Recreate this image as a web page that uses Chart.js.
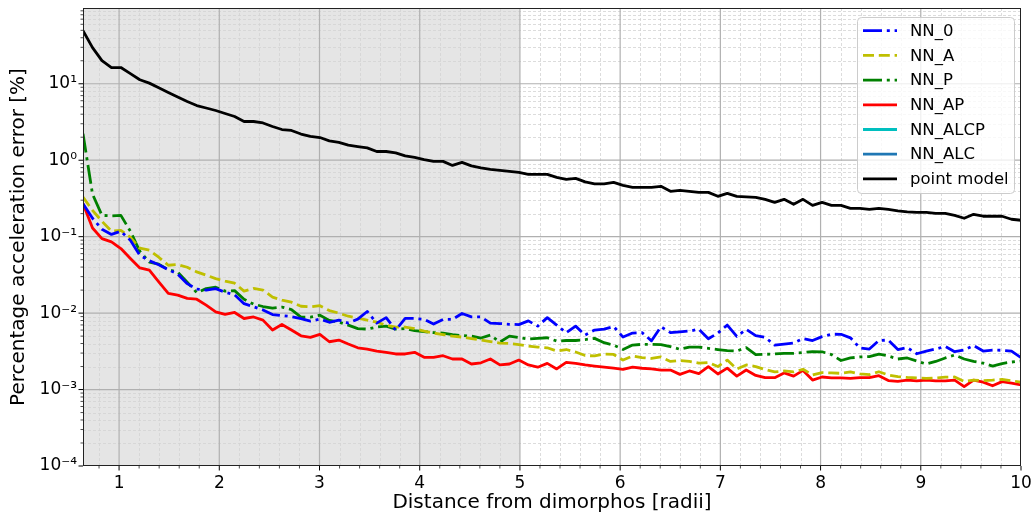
<!DOCTYPE html>
<html><head><meta charset="utf-8">
<script src="https://cdn.jsdelivr.net/npm/chart.js@4.4.0/dist/chart.umd.min.js"></script>
<style>html,body{margin:0;padding:0;background:#fff;}canvas{display:block;}</style>
</head><body>
<canvas id="c" width="1034" height="516"></canvas>
<script>
const distance = [0.640,0.735,0.829,0.924,1.018,1.113,1.207,1.302,1.396,1.491,
1.585,1.680,1.775,1.869,1.964,2.058,2.153,2.247,2.342,2.436,
2.531,2.625,2.720,2.815,2.909,3.004,3.098,3.193,3.287,3.382,
3.476,3.571,3.665,3.760,3.855,3.949,4.044,4.138,4.233,4.327,
4.422,4.516,4.611,4.705,4.800,4.895,4.989,5.084,5.178,5.273,
5.367,5.462,5.556,5.651,5.745,5.840,5.935,6.029,6.124,6.218,
6.313,6.407,6.502,6.596,6.691,6.785,6.880,6.975,7.069,7.164,
7.258,7.353,7.447,7.542,7.636,7.731,7.825,7.920,8.015,8.109,
8.204,8.298,8.393,8.487,8.582,8.676,8.771,8.865,8.960,9.055,
9.149,9.244,9.338,9.433,9.527,9.622,9.716,9.811,9.905,10.000];

const nn0 = [0.27,0.174,0.125,0.107,0.1176,0.0897,0.0571,0.0484,0.043,0.037,
0.0323,0.0243,0.0206,0.02,0.0209,0.0188,0.0174,0.0133,0.0121,0.011,
0.00956,0.00928,0.009,0.00848,0.00786,0.00835,0.00759,0.0081,0.0074,0.00835,
0.0105,0.0074,0.00873,0.006,0.00853,0.00853,0.00828,0.00719,0.00828,0.00828,
0.0099,0.00892,0.00892,0.0074,0.0073,0.00714,0.00708,0.00791,0.00676,0.00873,
0.00697,0.00553,0.00676,0.00516,0.006,0.00618,0.00667,0.00486,0.00548,0.00556,
0.00434,0.00663,0.00556,0.0057,0.00582,0.00614,0.00461,0.00548,0.00697,0.00496,
0.00612,0.00508,0.00482,0.00382,0.00394,0.00406,0.00465,0.00438,0.00493,0.00529,
0.00528,0.00475,0.00349,0.00339,0.00438,0.00444,0.00334,0.00354,0.00294,0.00319,
0.00339,0.00367,0.00313,0.0033,0.00376,0.00319,0.00329,0.00326,0.00319,0.00262];

const nnA = [0.33,0.221,0.159,0.1176,0.121,0.098,0.0706,0.0665,0.0538,0.0423,
0.0432,0.0398,0.0346,0.0313,0.0282,0.0262,0.0246,0.0194,0.021,0.02,
0.0162,0.0148,0.0139,0.0123,0.0121,0.0125,0.0108,0.01,0.0091,0.0086,
0.0081,0.0076,0.00697,0.00656,0.00656,0.00627,0.00582,0.00548,0.00524,0.005,
0.00486,0.00465,0.00444,0.00425,0.00406,0.004,0.00388,0.00371,0.0036,0.00352,
0.00319,0.00334,0.0031,0.00279,0.00275,0.00292,0.00288,0.00243,0.00275,0.00262,
0.00255,0.00267,0.00233,0.0024,0.00233,0.00222,0.00226,0.002,0.00243,0.00186,
0.0021,0.002,0.00183,0.0017,0.00175,0.0017,0.00184,0.00155,0.00167,0.00165,
0.00163,0.0017,0.0016,0.00157,0.00171,0.00155,0.00148,0.00144,0.00142,0.0014,
0.00142,0.00145,0.00146,0.00128,0.00133,0.00131,0.00133,0.00136,0.0013,0.00125];

const nnP = [2.22,0.36,0.19,0.187,0.19,0.1176,0.0644,0.0464,0.0436,0.037,
0.0343,0.0254,0.0185,0.0209,0.0218,0.0194,0.0197,0.0152,0.0131,0.0122,
0.0116,0.012,0.0111,0.00887,0.00887,0.0094,0.00803,0.00763,0.00697,0.00627,
0.00618,0.00656,0.00676,0.00618,0.00627,0.00591,0.00573,0.00556,0.00548,0.00524,
0.00508,0.005,0.00472,0.00516,0.00418,0.005,0.00479,0.00458,0.00467,0.00476,
0.00431,0.00438,0.00438,0.00451,0.00467,0.0041,0.00382,0.00334,0.00382,0.0039,
0.0039,0.00388,0.00365,0.00336,0.0036,0.0036,0.00346,0.00334,0.00324,0.00319,
0.00354,0.00287,0.00289,0.00292,0.00298,0.00298,0.00305,0.00314,0.00312,0.00287,
0.0024,0.00259,0.00267,0.0027,0.0029,0.00275,0.00251,0.00259,0.00236,0.00216,
0.00233,0.00259,0.00283,0.00251,0.00233,0.00222,0.00203,0.00219,0.00229,0.00236];

const nnAP = [0.27,0.13,0.0944,0.0853,0.0699,0.0518,0.039,0.0364,0.0256,0.0181,
0.0172,0.0156,0.0152,0.0127,0.0104,0.0096,0.0102,0.0085,0.0089,0.0081,
0.006,0.0071,0.006,0.00505,0.00482,0.00527,0.00422,0.00444,0.00394,0.00352,
0.00339,0.00319,0.00307,0.00292,0.00292,0.00307,0.00264,0.00264,0.00277,0.00251,
0.00251,0.00216,0.00224,0.00251,0.0021,0.00216,0.00243,0.0021,0.00196,0.0022,
0.00186,0.00227,0.0022,0.0021,0.00203,0.00197,0.00191,0.00184,0.00197,0.0019,
0.00186,0.0018,0.0018,0.00158,0.00175,0.00162,0.00199,0.0016,0.00191,0.0015,
0.0018,0.00153,0.00143,0.00143,0.00165,0.0015,0.00178,0.00133,0.00146,0.00142,
0.00142,0.0014,0.00143,0.00143,0.00152,0.00131,0.00128,0.00133,0.0013,0.00133,
0.0013,0.0013,0.00133,0.00109,0.00133,0.00125,0.00112,0.00127,0.00121,0.00115];

const nnALCP = [];
const nnALC = [];

const pointModel = [49.5,29.7,20.1,16.3,16.3,13.6,11.3,10.2,8.9,7.7,
6.7,5.86,5.19,4.82,4.47,4.08,3.73,3.21,3.21,3.07,
2.76,2.52,2.45,2.2,2.05,1.98,1.79,1.71,1.58,1.51,
1.45,1.3,1.3,1.25,1.14,1.09,1.02,0.965,0.965,0.855,
0.936,0.843,0.793,0.759,0.736,0.714,0.693,0.653,0.653,0.653,
0.596,0.562,0.579,0.521,0.49,0.49,0.513,0.469,0.442,0.442,
0.442,0.455,0.392,0.403,0.392,0.38,0.38,0.337,0.369,0.337,
0.332,0.327,0.308,0.281,0.308,0.265,0.308,0.257,0.281,0.257,
0.257,0.235,0.235,0.227,0.235,0.227,0.218,0.211,0.208,0.208,
0.202,0.202,0.19,0.174,0.196,0.185,0.185,0.185,0.169,0.164];

const seriesNames = ['NN_0','NN_A','NN_P','NN_AP','NN_ALCP','NN_ALC','point model'];
const xTickValues = [1,2,3,4,5,6,7,8,9,10];
const yTickValues = [1e-4,1e-3,1e-2,1e-1,1,10];
const yTickLabels = ['10\u207B\u2074','10\u207B\u00B3','10\u207B\u00B2','10\u207B\u00B9','10\u2070','10\u00B9'];
const shadeEnd = 5;

Chart.defaults.font.family = "'DejaVu Sans', sans-serif";
Chart.defaults.color = '#000';

const pts = arr => arr.map((v, i) => ({x: distance[i], y: v}));
const DASHDOT = [19, 4.8, 3, 4.8];
const DASHED = [11, 4.8];
const LW = 2.8;

function mk(label, arr, color, dash) {
  return {label, data: pts(arr), borderColor: color, backgroundColor: color,
    borderWidth: LW, borderDash: dash, pointRadius: 0, tension: 0,
    borderJoinStyle: 'round', borderCapStyle: 'butt', fill: false};
}

const datasets = [
  mk(seriesNames[0], nn0, '#0000ff', DASHDOT),
  mk(seriesNames[1], nnA, '#bfbf00', DASHED),
  mk(seriesNames[2], nnP, '#008000', DASHDOT),
  mk(seriesNames[3], nnAP, '#ff0000', []),
  mk(seriesNames[4], nnALCP, '#00bfbf', []),
  mk(seriesNames[5], nnALC, '#1f77b4', []),
  mk(seriesNames[6], pointModel, '#000000', [])
];

function xMinorTicks() {
  const out = [];
  for (let i = 0; i < xTickValues.length; i++) {
    const b = xTickValues[i];
    out.push({value: b, major: true});
    if (i < xTickValues.length - 1) for (let j = 1; j < 5; j++) out.push({value: Math.round((b + 0.2 * j) * 10) / 10, major: false});
  }
  out.unshift({value: 0.8, major: false});
  return out;
}
function yMinorTicks() {
  const out = [];
  yTickValues.forEach(d => {
    out.push({value: d, major: true});
    for (let m = 2; m <= 9; m++) out.push({value: m * d, major: false});
  });
  return out;
}

const decorPlugin = {
  id: 'decor',
  beforeDatasetsDraw(chart) {
    const {ctx, chartArea: ca, scales: {x, y}} = chart;
    ctx.save();
    const xs = x.getPixelForValue(shadeEnd);
    ctx.fillStyle = '#e5e5e5';
    ctx.fillRect(ca.left, ca.top, xs - ca.left, ca.bottom - ca.top);
    ctx.beginPath();
    ctx.rect(ca.left, ca.top, ca.right - ca.left, ca.bottom - ca.top);
    ctx.clip();
    ctx.lineWidth = 0.8;
    ctx.strokeStyle = '#d3d3d3';
    ctx.setLineDash([3, 2]);
    x.ticks.filter(t => !t.major).forEach(t => {
      const p = Math.round(x.getPixelForValue(t.value)) + 0.5;
      ctx.beginPath(); ctx.moveTo(p, ca.top); ctx.lineTo(p, ca.bottom); ctx.stroke();
    });
    y.ticks.filter(t => !t.major).forEach(t => {
      const p = Math.round(y.getPixelForValue(t.value)) + 0.5;
      ctx.beginPath(); ctx.moveTo(ca.left, p); ctx.lineTo(ca.right, p); ctx.stroke();
    });
    ctx.setLineDash([]);
    ctx.lineWidth = 1.2;
    ctx.strokeStyle = '#b0b0b0';
    x.ticks.filter(t => t.major).forEach(t => {
      const p = x.getPixelForValue(t.value);
      ctx.beginPath(); ctx.moveTo(p, ca.top); ctx.lineTo(p, ca.bottom); ctx.stroke();
    });
    y.ticks.filter(t => t.major).forEach(t => {
      const p = y.getPixelForValue(t.value);
      ctx.beginPath(); ctx.moveTo(ca.left, p); ctx.lineTo(ca.right, p); ctx.stroke();
    });
    ctx.restore();
  },
  afterDatasetsDraw(chart) {
    const {ctx, chartArea: ca, scales: {x, y}} = chart;
    ctx.save();
    ctx.strokeStyle = '#000';
    x.ticks.forEach(t => {
      const p = x.getPixelForValue(t.value);
      ctx.lineWidth = t.major ? 1 : 0.7;
      const len = t.major ? 4.5 : 2.5;
      ctx.beginPath(); ctx.moveTo(p, ca.bottom); ctx.lineTo(p, ca.bottom + len); ctx.stroke();
    });
    y.ticks.forEach(t => {
      const p = y.getPixelForValue(t.value);
      ctx.lineWidth = t.major ? 1 : 0.7;
      const len = t.major ? 4.5 : 2.5;
      ctx.beginPath(); ctx.moveTo(ca.left, p); ctx.lineTo(ca.left - len, p); ctx.stroke();
    });
    ctx.lineWidth = 1;
    ctx.strokeStyle = '#222';
    ctx.strokeRect(Math.round(ca.left) + 0.5, Math.round(ca.top) + 0.5, Math.round(ca.right - ca.left) - 1, Math.round(ca.bottom - ca.top) - 1);
    const x0 = ca.right - 164, y0 = ca.top + 9, w = 157, h = 176;
    ctx.fillStyle = 'rgba(255,255,255,0.8)';
    ctx.strokeStyle = '#cccccc';
    ctx.lineWidth = 1;
    ctx.beginPath();
    ctx.roundRect(x0 + 0.5, y0 + 0.5, w, h, 4);
    ctx.fill(); ctx.stroke();
    ctx.font = "16.5px 'DejaVu Sans', sans-serif";
    ctx.textBaseline = 'middle';
    ctx.textAlign = 'left';
    chart.data.datasets.forEach((ds, i) => {
      const cy = y0 + 13.7 + i * 24.7;
      ctx.setLineDash(ds.borderDash || []);
      ctx.strokeStyle = ds.borderColor;
      ctx.lineWidth = ds.borderWidth;
      ctx.lineCap = 'butt';
      ctx.beginPath(); ctx.moveTo(x0 + 6, cy); ctx.lineTo(x0 + 40, cy); ctx.stroke();
      ctx.setLineDash([]);
      ctx.fillStyle = '#000';
      ctx.fillText(ds.label, x0 + 53, cy + 1);
    });
    ctx.restore();
  }
};

function zeroPad(s) { s.paddingTop = 0; s.paddingBottom = 0; s.paddingLeft = 0; s.paddingRight = 0; }

new Chart(document.getElementById('c'), {
  type: 'line',
  data: {datasets},
  plugins: [decorPlugin],
  options: {
    responsive: false, animation: false, devicePixelRatio: 1,
    layout: {padding: {left: 0, right: 13, top: 8, bottom: 0}},
    plugins: {legend: {display: false}, tooltip: {enabled: false}},
    scales: {
      x: {
        type: 'linear', min: 0.64, max: 10,
        grid: {display: false, drawTicks: false}, border: {display: false},
        ticks: {autoSkip: false, maxRotation: 0, minRotation: 0, padding: 7, font: {size: 17},
          callback: v => xTickValues.includes(v) ? String(v) : ''},
        afterBuildTicks: s => { s.ticks = xMinorTicks(); },
        afterFit: s => { s.height = 50; zeroPad(s); },
        title: {display: true, text: 'Distance from dimorphos [radii]', font: {size: 20}, padding: {top: 0, bottom: 1}}
      },
      y: {
        type: 'logarithmic', min: 1e-4, max: 98,
        grid: {display: false, drawTicks: false}, border: {display: false},
        ticks: {autoSkip: false, padding: 6, font: {size: 17},
          callback: v => { const i = yTickValues.findIndex(d => Math.abs(d - v) / d < 1e-6); return i >= 0 ? yTickLabels[i] : ''; }},
        afterBuildTicks: s => { s.ticks = yMinorTicks(); },
        afterFit: s => { s.width = 83; zeroPad(s); },
        title: {display: true, text: 'Percentage acceleration error [%]', font: {size: 20}, padding: {top: 7, bottom: 0}}
      }
    }
  }
});
</script>
</body></html>
